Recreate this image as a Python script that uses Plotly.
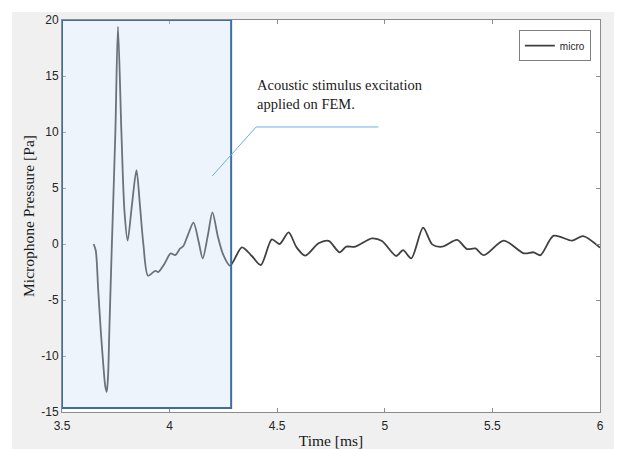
import plotly.graph_objects as go

# Time [ms] and microphone pressure [Pa]
time_ms = [3.647, 3.657, 3.668, 3.680, 3.692, 3.701, 3.708, 3.714, 3.720, 3.731, 3.748, 3.760, 3.776,
           3.790, 3.805, 3.825, 3.846, 3.862, 3.878, 3.900, 3.933, 3.948, 3.975, 4.005, 4.026, 4.049,
           4.064, 4.085, 4.111, 4.135, 4.154, 4.178, 4.199, 4.225, 4.250, 4.281, 4.336, 4.382, 4.424,
           4.475, 4.511, 4.553, 4.590, 4.630, 4.692, 4.739, 4.790, 4.821, 4.863, 4.940, 4.987, 5.053,
           5.085, 5.123, 5.178, 5.220, 5.266, 5.336, 5.382, 5.421, 5.460, 5.553, 5.646, 5.692, 5.723,
           5.785, 5.871, 5.922, 6.000]
pressure_pa = [0.0, -0.6, -4.0, -7.7, -10.8, -12.7, -13.2, -11.8, -7.7, -0.5, 10.0, 19.4, 10.0,
               3.0, 0.3, 3.5, 6.6, 3.5, 0.0, -2.83, -2.4, -2.5, -1.8, -0.83, -1.0, -0.4,
               -0.18, 0.8, 1.9, 0.2, -1.28, 0.8, 2.83, 0.6, -1.0, -1.94, -0.3, -1.07, -1.875,
               0.42, 0.0, 1.04, -0.3, -1.04, 0.06, 0.27, -0.74, -0.24, -0.24, 0.5, 0.27, -1.07,
               -0.54, -1.28, 1.46, -0.03, -0.24, 0.36, -0.45, -0.4, -1.0, 0.3, -0.83, -0.74, -1.0,
               0.74, 0.3, 0.71, -0.33]

x_ticks = [3.5, 4, 4.5, 5, 5.5, 6]
x_tick_labels = ["3.5", "4", "4.5", "5", "5.5", "6"]
y_ticks = [-15, -10, -5, 0, 5, 10, 15, 20]
y_tick_labels = ["-15", "-10", "-5", "0", "5", "10", "15", "20"]

# Highlighted stimulus region (data coords)
box_t = [3.5, 4.286]
box_p = [-14.64, 20.0]
# Callout line (data coords)
callout_t = [4.198, 4.402, 4.970]
callout_p = [6.07, 10.45, 10.45]
callout_text = "Acoustic stimulus excitation<br>applied on FEM."

fig = go.Figure()
fig.add_trace(go.Scatter(
    x=time_ms, y=pressure_pa, mode="lines", name="micro",
    line=dict(color="#404040", width=1.8, shape="spline", smoothing=0.8),
))

fig.add_shape(type="rect", xref="paper", yref="paper",
              x0=-0.0929, x1=1.05, y0=-0.1, y1=1.0204,
              fillcolor="#f0f0f0", line=dict(width=0), layer="below")
fig.add_shape(type="rect", xref="paper", yref="paper", x0=0, x1=1, y0=0, y1=1,
              fillcolor="white", line=dict(width=0), layer="below")
fig.add_shape(type="rect", x0=box_t[0], x1=box_t[1], y0=box_p[0], y1=box_p[1],
              fillcolor="rgba(200,220,245,0.32)",
              line=dict(color="#3a6ea5", width=2), layer="above")
fig.add_shape(type="path",
              path="M {} {} L {} {} L {} {}".format(callout_t[0], callout_p[0], callout_t[1],
                                                   callout_p[1], callout_t[2], callout_p[2]),
              line=dict(color="#6aaee8", width=1), layer="above")

fig.add_annotation(text=callout_text, xref="paper", yref="paper",
                   x=(255 - 62) / 538, y=(412 - 75) / 392, xanchor="left", yanchor="top",
                   align="left", showarrow=False,
                   font=dict(family="Liberation Serif", size=14.5, color="#1a1a1a"))

axis_common = dict(showgrid=False, zeroline=False, showline=True, mirror="ticks",
                   linecolor="#8c8c8c", linewidth=1, ticks="inside", ticklen=4,
                   tickcolor="#8c8c8c", automargin=False,
                   tickfont=dict(family="Liberation Sans", size=12, color="#262626"))

fig.update_xaxes(range=[3.5, 6], tickvals=x_ticks, ticktext=x_tick_labels,
                 ticklabelstandoff=3,
                 title=dict(text="Time [ms]", standoff=2,
                            font=dict(family="Liberation Serif", size=15.5, color="#1a1a1a")),
                 **axis_common)
fig.update_yaxes(range=[-15, 20], tickvals=y_ticks, ticktext=y_tick_labels,
                 title=dict(text="Microphone Pressure [Pa]", standoff=2,
                            font=dict(family="Liberation Serif", size=15.5, color="#1a1a1a")),
                 **axis_common)

# The page body adds an 8px offset, so the figure is 8px smaller on each leading side
fig.update_layout(
    width=614, height=441,
    margin=dict(l=54, r=22, t=12, b=37),
    paper_bgcolor="white", plot_bgcolor="white",
    showlegend=True,
    legend=dict(x=0.983, y=0.974, xanchor="right", yanchor="top",
                bgcolor="white", bordercolor="#7f7f7f", borderwidth=1,
                font=dict(family="Liberation Sans", size=10, color="#262626"),
                itemwidth=30, tracegroupgap=0),
)

fig.write_html("out.html")
